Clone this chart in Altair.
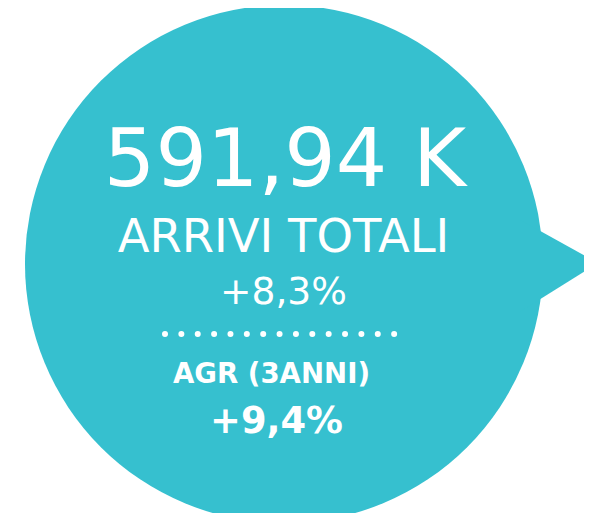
import altair as alt
import pandas as pd

# ---- content ----
headline = ["591,94 K"]
headline_label = ["ARRIVI TOTALI"]
change = ["+8,3%"]
agr_label = ["AGR (3ANNI)"]
agr_value = ["+9,4%"]
dot_count = [15]

TEAL = "#36C0CF"
FONT = "DejaVu Sans"
OX, OY = 8, 8  # page margin offset
W, H = 576, 505  # keep the page inside the 592x526 window


def px(x):
    return alt.value(x - OX)


def py(y):
    return alt.value(y - OY)


one = pd.DataFrame({"k": [0]})

bubble = alt.Chart(one).mark_point(
    shape="circle", filled=True, opacity=1, color=TEAL, strokeWidth=0
).encode(x=px(284), y=py(264), size=alt.value(518 * 518))

# speech-bubble pointer (geometry, page pixel coordinates)
ptr = pd.DataFrame({"x": [520, 598], "y": [219.8, 263], "y2": [311.8, 263]})
pointer = alt.Chart(ptr).mark_area(color=TEAL, opacity=1, clip=True).encode(
    x=alt.X("x:Q", scale=alt.Scale(domain=[OX, OX + W], range=[0, W], nice=False, zero=False), axis=None),
    y=alt.Y("y:Q", scale=alt.Scale(domain=[OY, OY + H], range=[0, H], nice=False, zero=False), axis=None),
    y2="y2:Q",
)


def label(text_list, x, y, size, weight):
    df = pd.DataFrame({"t": text_list})
    return alt.Chart(df).mark_text(
        align="center", baseline="alphabetic", font=FONT, fontSize=size,
        fontWeight=weight, color="white"
    ).encode(text="t:N", x=px(x), y=py(y))


t1 = label(headline, 285, 186, 81, "normal")
t2 = label(headline_label, 283.5, 252, 46.5, "normal")
t3 = label(change, 283.5, 304, 37.6, "normal")
t4 = label(agr_label, 271.5, 383, 27.6, "bold")
t5 = label(agr_value, 276.5, 433, 36.8, "bold")

spacing = 229 / (dot_count[0] - 1)
dots = alt.Chart(pd.DataFrame({"n": dot_count})).mark_rule(
    color="white", strokeWidth=6, strokeCap="round", strokeDash=[0.01, spacing]
).encode(x=px(165), x2=px(165 + 229.5), y=py(334))

chart = alt.layer(bubble, pointer, t1, t2, t3, dots, t4, t5).properties(
    width=W, height=H, padding=0, autosize="none", background="white"
).configure_view(stroke=None)

chart.save("out.html", embed_options={"renderer": "svg", "actions": False})
